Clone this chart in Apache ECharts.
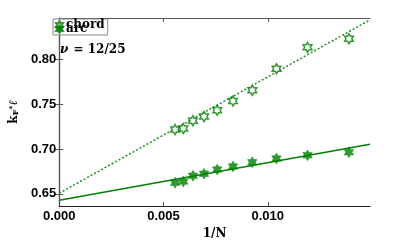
<!DOCTYPE html>
<html><head><meta charset="utf-8">
<script src="https://cdn.jsdelivr.net/npm/echarts@6/dist/echarts.min.js"></script>
<style>html,body{margin:0;padding:0;background:#fff}#c{width:409px;height:245px}</style>
</head><body><div id="c"></div>
<script>
const invN = [0.005556, 0.005952, 0.006410, 0.006944, 0.007576, 0.008333, 0.009259, 0.010417, 0.011905, 0.013889];
const chord = [0.7218, 0.7229, 0.7317, 0.7363, 0.7433, 0.7538, 0.7657, 0.7898, 0.8137, 0.8232];
const arc = [0.6624, 0.6637, 0.6701, 0.6725, 0.6771, 0.6806, 0.6852, 0.6894, 0.6930, 0.6965];
const fitX = [0, 0.0149];
const chordFit = [0.6507, 0.8444];
const arcFit = [0.6429, 0.7053];
const xTicks = [0, 0.005, 0.010];
const yTicks = [0.65, 0.70, 0.75, 0.80];
const xLabels = ['0.000', '0.005', '0.010'];
const yLabels = ['0.65', '0.70', '0.75', '0.80'];

const star = 'path://M10 0 L12.887 5 L18.66 5 L15.774 10 L18.66 15 L12.887 15 L10 20 L7.113 15 L1.34 15 L4.226 10 L1.34 5 L7.113 5 Z';
const G = '#008000';
const xMin = 0, xMax = 0.0149, yMin = 0.6363, yMax = 0.8465;
const frame = '#555';
const lblFont = {fontFamily: 'Liberation Sans', fontWeight: 'bold', fontSize: 13, color: '#000'};

const chart = echarts.init(document.getElementById('c'), null, {renderer: 'canvas'});
const zipXY = (xs, ys) => xs.map((x, i) => [x, ys[i]]);
chart.setOption({
  animation: false,
  backgroundColor: '#fff',
  grid: {left: 53, right: 39, top: 18, bottom: 28, containLabel: false},
  xAxis: [{
    type: 'value', min: xMin, max: xMax, position: 'bottom',
    axisLine: {show: true, lineStyle: {color: '#222', width: 1.2}},
    axisTick: {show: true, inside: true, length: 4, customValues: xTicks, lineStyle: {color: frame}},
    axisLabel: Object.assign({customValues: xTicks, margin: 4, formatter: v => xLabels[xTicks.findIndex(t => Math.abs(t - v) < 1e-9)] || ''}, lblFont),
    splitLine: {show: false},
    name: '1/N', nameLocation: 'middle', nameGap: 15,
    nameTextStyle: {fontFamily: 'DejaVu Serif', fontSize: 12, fontWeight: 'bold', color: '#000'}
  }, {
    type: 'value', min: xMin, max: xMax, position: 'top',
    axisLine: {show: true, lineStyle: {color: frame, width: 1.2}},
    axisTick: {show: true, inside: true, length: 4, customValues: xTicks, lineStyle: {color: frame}},
    axisLabel: {show: false}, splitLine: {show: false}
  }],
  yAxis: [{
    type: 'value', min: yMin, max: yMax, position: 'left',
    axisLine: {show: true, lineStyle: {color: frame, width: 1.2}},
    axisTick: {show: true, inside: true, length: 4, customValues: yTicks, lineStyle: {color: frame}},
    axisLabel: Object.assign({customValues: yTicks, margin: 3, formatter: v => yLabels[yTicks.findIndex(t => Math.abs(t - v) < 1e-9)] || ''}, lblFont),
    splitLine: {show: false},
    name: '{k|k}{sub|F}{sup|*}{l|ℓ}', nameLocation: 'middle', nameGap: 37, nameRotate: 90,
    nameTextStyle: {
      color: '#000',
      rich: {
        k: {fontFamily: 'DejaVu Serif', fontWeight: 'bold', fontSize: 12, color: '#000', verticalAlign: 'bottom'},
        sub: {fontFamily: 'DejaVu Serif', fontWeight: 'bold', fontSize: 8, color: '#000', verticalAlign: 'bottom', padding: [4, 0, 0, 0]},
        sup: {fontFamily: 'DejaVu Serif', fontWeight: 'bold', fontSize: 8, color: '#000', verticalAlign: 'top', padding: [0, 0, 4, 0]},
        l: {fontFamily: 'DejaVu Serif', fontStyle: 'italic', fontSize: 12, color: '#000', verticalAlign: 'bottom'}
      }
    }
  }, {
    type: 'value', min: yMin, max: yMax, position: 'right',
    axisLine: {show: true, lineStyle: {color: frame, width: 1.2}},
    axisTick: {show: true, inside: true, length: 4, customValues: yTicks, lineStyle: {color: frame}},
    axisLabel: {show: false}, splitLine: {show: false}
  }],
  legend: {
    left: 53, top: 19, orient: 'vertical',
    data: ['chord', 'arc'],
    itemWidth: 9, itemHeight: 8, itemGap: -8,
    padding: [0, 3, 0, 2],
    borderColor: '#888', borderWidth: 1, borderRadius: 0,
    backgroundColor: '#fff',
    textStyle: {fontFamily: 'DejaVu Serif', fontWeight: 'bold', fontSize: 12, color: '#000', lineHeight: 12, padding: [0, 0, 0, -3]}
  },
  graphic: [{
    type: 'text', left: 60, top: 44, z: 100,
    style: {
      text: '{i|ν} = 12/25',
      fontFamily: 'DejaVu Serif', fontWeight: 'bold', fontSize: 12, fill: '#000',
      rich: {i: {fontFamily: 'DejaVu Serif', fontStyle: 'italic', fontWeight: 'bold', fontSize: 12, fill: '#000', padding: [0, 1, 0, 1]}}
    }
  }],
  series: [{
    name: 'chord', type: 'scatter', data: zipXY(invN, chord),
    symbol: star, symbolSize: 10, symbolKeepAspect: true, z: 5,
    itemStyle: {color: '#fff', borderColor: G, borderWidth: 1.5}
  }, {
    name: 'arc', type: 'scatter', data: zipXY(invN, arc),
    symbol: star, symbolSize: 11, symbolKeepAspect: true, z: 5,
    itemStyle: {color: G, borderColor: G, borderWidth: 0.5}
  }, {
    name: 'chordfit', type: 'line', data: zipXY(fitX, chordFit), showSymbol: false,
    lineStyle: {color: '#1f8f1f', width: 1.5, type: [2, 2]}, z: 3
  }, {
    name: 'arcfit', type: 'line', data: zipXY(fitX, arcFit), showSymbol: false,
    lineStyle: {color: G, width: 1.5}, z: 3
  }]
});
</script></body></html>
